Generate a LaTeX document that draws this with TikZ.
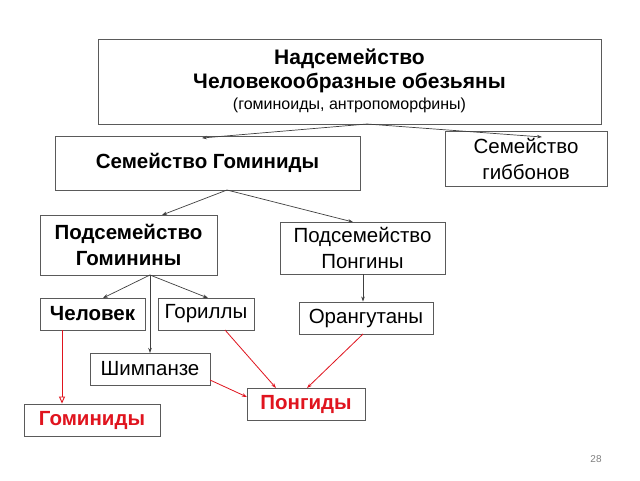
\documentclass[tikz,border=0pt]{standalone}
\usepackage{fontspec}
\setmainfont{Liberation Sans}
\usetikzlibrary{arrows.meta}
\definecolor{boxc}{HTML}{5A5A5A}
\definecolor{linec}{HTML}{404040}
\definecolor{redc}{HTML}{E0141E}
\tikzset{
  box/.style={draw=boxc, line width=0.9pt, align=center, inner sep=0pt, font=\fontsize{20.5}{26}\selectfont},
  bbox/.style={box, font=\fontsize{20.5}{26}\selectfont\bfseries},
  conn/.style={draw=linec, line width=0.7pt, -{Stealth[length=5pt,width=3.5pt]}},
  rconn/.style={draw=redc, line width=0.8pt, -{Stealth[length=5pt,width=3.5pt]}},
  rconnopen/.style={draw=redc, line width=0.9pt, -{Triangle[open,length=7pt,width=6pt]}}
}
\begin{document}
\begin{tikzpicture}[x=1pt,y=-1pt]
\path[use as bounding box, fill=white] (0,0) rectangle (640,480);
\node[box, minimum width=503pt, minimum height=85pt] (top) at (349.5,81.5) {};
\node[font=\fontsize{21}{24}\selectfont\bfseries] (t1) at (349.5,59) {Надсемейство};
\node[font=\fontsize{21}{24}\selectfont\bfseries] (t2) at (349.5,83) {Человекообразные обезьяны};
\node[font=\fontsize{16}{18}\selectfont] (t3) at (349.5,105) {(гоминоиды, антропоморфины)};
\node[bbox, minimum width=305pt, minimum height=54pt] (fam) at (207.5,163) {Семейство Гоминиды};
\node[box, minimum width=162pt, minimum height=55pt] (gib) at (526,158.5) {Семейство\\гиббонов};
\node[bbox, minimum width=177pt, minimum height=60pt] (hmn) at (128.5,245) {Подсемейство\\Гоминины};
\node[box, minimum width=165pt, minimum height=52pt] (png) at (362.5,248) {Подсемейство\\Понгины};
\node[bbox, minimum width=105pt, minimum height=32pt] (man) at (92.5,314) {Человек};
\node[box, minimum width=96pt, minimum height=32pt] (gor) at (206,314) {Гориллы};
\node[box, minimum width=120pt, minimum height=32pt] (chi) at (150,369) {Шимпанзе};
\node[box, minimum width=134pt, minimum height=32pt] (ora) at (366,318) {Орангутаны};
\node[bbox, text=redc, minimum width=136pt, minimum height=32pt] (hmd) at (92,420) {Гоминиды};
\node[bbox, text=redc, minimum width=118pt, minimum height=32pt] (pgd) at (306,404) {Понгиды};
\node[font=\fontsize{10}{12}\selectfont, text=gray] (pn) at (596,459) {28};
% apex coordinates
\coordinate (a1) at (367,124);
\coordinate (a2) at (227,190);
\coordinate (a3) at (150,275);
\coordinate (e1) at (202,138);
\coordinate (e2) at (542,137);
\coordinate (e3) at (162,215);
\coordinate (e4) at (353,222);
\coordinate (e5) at (103,298);
\coordinate (e6) at (208,298);
\coordinate (e7) at (150,353);
\draw[conn] (a1) -- (e1);
\draw[conn] (a1) -- (e2);
\draw[conn] (a2) -- (e3);
\draw[conn] (a2) -- (e4);
\draw[conn] (a3) -- (e5);
\draw[conn] (a3) -- (e6);
\draw[conn] (a3) -- (e7);
\draw[conn] (png.south -| ora.north) ++(-3,0) coordinate (p1) (p1) -- (p1 |- ora.north);
\draw[rconnopen] (man.south -| 62,0) coordinate (m1) (m1) -- (m1 |- hmd.north);
\coordinate (g1) at (225,330);
\coordinate (g2) at (276,388);
\coordinate (o1) at (363,334);
\coordinate (o2) at (307,388);
\coordinate (c1) at (210,380);
\coordinate (c2) at (247,397);
\draw[rconn] (g1) -- (g2);
\draw[rconn] (o1) -- (o2);
\draw[rconn] (c1) -- (c2);
\end{tikzpicture}
\end{document}
